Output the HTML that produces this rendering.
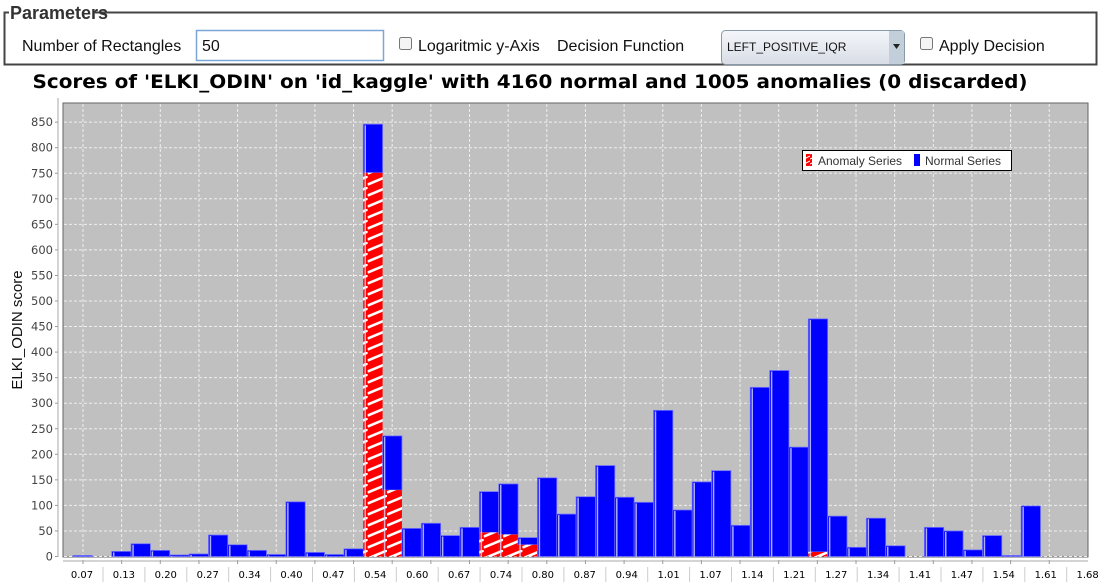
<!DOCTYPE html>
<html><head><meta charset="utf-8"><style>
body{margin:0;width:1104px;height:584px;background:#fff;overflow:hidden;font-family:"Liberation Sans",Arial,sans-serif;}
svg{display:block}
</style></head><body>
<svg width="1104" height="584">
<defs>
<pattern id="hatch" patternUnits="userSpaceOnUse" width="19.35" height="11">
<rect width="19.35" height="11" fill="#ff0000"/>
<path d="M0,8.5 L19.35,0.5" stroke="#fff" stroke-width="2.6"/>
</pattern>
<pattern id="hatchS" patternUnits="userSpaceOnUse" width="6" height="5">
<rect width="6" height="5" fill="#ff0000"/>
<path d="M0,4 L6,1" stroke="#fff" stroke-width="1"/>
</pattern>
<linearGradient id="combo" x1="0" y1="0" x2="0" y2="1"><stop offset="0" stop-color="#f4f6fa"/><stop offset="1" stop-color="#d8dde6"/></linearGradient>
</defs>
<g>
<rect x="4.5" y="12.5" width="1092" height="52" fill="none" stroke="#444" stroke-width="2"/>
<rect x="9" y="2" width="86" height="20" fill="#fff"/>
<text x="10" y="19" font-size="18" font-weight="bold" fill="#333">Parameters</text>
<text x="22" y="51" font-size="16" fill="#111">Number of Rectangles</text>
<rect x="196.5" y="30.5" width="187" height="30" fill="#fff" stroke="#7aa7d8" stroke-width="1.5"/>
<text x="202" y="51" font-size="16" fill="#111">50</text>
<rect x="399.5" y="37.5" width="12" height="12" rx="2" fill="#f4f4f4" stroke="#777"/>
<text x="418" y="51" font-size="16" fill="#111">Logaritmic y-Axis</text>
<text x="557" y="51" font-size="16" fill="#111">Decision Function</text>
<g>
<rect x="721.5" y="30.5" width="183" height="34" rx="4" fill="url(#combo)" stroke="#8899aa"/>
<rect x="889" y="31" width="15" height="33" fill="#c3cedb"/>
<path d="M893,44 L900,44 L896.5,49 Z" fill="#222"/>
<text x="727" y="51" font-size="12" fill="#111">LEFT_POSITIVE_IQR</text>
</g>
<rect x="920.5" y="37.5" width="12" height="12" rx="2" fill="#f4f4f4" stroke="#777"/>
<text x="939" y="51" font-size="16" fill="#111">Apply Decision</text>
</g>
<text x="530" y="88" text-anchor="middle" font-family="DejaVu Sans,sans-serif" font-weight="bold" font-size="19" textLength="995" lengthAdjust="spacingAndGlyphs" fill="#000">Scores of 'ELKI_ODIN' on 'id_kaggle' with 4160 normal and 1005 anomalies (0 discarded)</text>
<rect x="63" y="103" width="1025" height="454" fill="#c0c0c0" stroke="#666"/>
<g id="grid"></g>
<g id="bars"></g>
<g id="axes"></g>
<text transform="translate(22,330) rotate(-90)" text-anchor="middle" font-size="15" fill="#111">ELKI_ODIN score</text>
<g>
<rect x="802.5" y="150.5" width="209" height="20" fill="#fff" stroke="#000"/>
<rect x="806" y="154" width="6" height="12" fill="url(#hatchS)"/>
<text x="818" y="165" font-size="12" fill="#333">Anomaly Series</text>
<rect x="914" y="154" width="6" height="12" fill="#0000ff"/>
<text x="925" y="165" font-size="12" fill="#333">Normal Series</text>
</g>
</svg>
<script>
const totals=[2,0,10,25,12,3,5,42,23,12,4,107,8,4,15,846,236,55,65,41,57,127,142,37,154,83,117,178,116,106,286,91,146,168,61,331,364,214,465,79,18,75,21,0,57,50,13,41,2,99];
const anomalies=[0,0,0,0,0,0,0,0,0,0,0,0,0,0,0,751,130,0,0,0,0,47,43,23,0,0,0,0,0,0,0,0,0,0,0,0,0,0,9,0,0,0,0,0,0,0,0,0,0,0];
const yTicks=[0,50,100,150,200,250,300,350,400,450,500,550,600,650,700,750,800,850];
const xLabels=["0.07","0.13","0.20","0.27","0.34","0.40","0.47","0.54","0.60","0.67","0.74","0.80","0.87","0.94","1.01","1.07","1.14","1.21","1.27","1.34","1.41","1.47","1.54","1.61","1.68"];
const NS="http://www.w3.org/2000/svg";
const y0=556.5,py=0.511,bx0=73,bw=19.35;
const Y=v=>y0-v*py, X=i=>bx0+i*bw;
function mk(t,a,p){const e=document.createElementNS(NS,t);for(const k in a)e.setAttribute(k,a[k]);p.appendChild(e);return e;}
const grid=document.getElementById('grid'),bars=document.getElementById('bars'),axes=document.getElementById('axes');
yTicks.forEach(v=>{
  const l=mk('line',{x1:64,x2:1087,y1:Y(v),y2:Y(v),stroke:'#eee','stroke-dasharray':'3,2','stroke-width':1},grid);
  
  
  mk('line',{x1:55,x2:58,y1:Y(v),y2:Y(v),stroke:'#999'},axes);
  const t=mk('text',{x:53,y:Y(v)+4,'text-anchor':'end','font-size':11.5,fill:'#444','font-family':'DejaVu Sans,sans-serif'},axes);
  t.textContent=v;
  
  
});
for(let k=0;k<=25;k++){const gx=83+k*38.65;
  const l=mk('line',{x1:gx,x2:gx,y1:104,y2:556,stroke:'#eee','stroke-dasharray':'3,2'},grid);
  
  
  mk('line',{x1:gx,x2:gx,y1:560,y2:564,stroke:'#999'},axes);}
mk('line',{x1:58,x2:58,y1:98,y2:557,stroke:'#aaa'},axes);
mk('line',{x1:63,x2:1088,y1:561,y2:561,stroke:'#aaa'},axes);
xLabels.forEach((s,i)=>{const lx=82+i*41.9;
  const t=mk('text',{x:lx,y:578,'text-anchor':'middle','font-size':10,fill:'#000','font-family':'DejaVu Sans,sans-serif'},axes);
  t.textContent=s;
  
  
  if(i<24)mk('line',{x1:lx+21,x2:lx+21,y1:567,y2:582,stroke:'#ccc'},axes);
});
totals.forEach((tv,i)=>{
  const a=anomalies[i],n=tv-a,x=X(i);
  if(n>0){const r=mk('rect',{x:x,y:Y(tv),width:bw,height:n*py,fill:'#0000ff',stroke:'#7070ff','stroke-width':0.8},bars);
    
    }
  if(a>0){const r=mk('rect',{x:x,y:Y(a),width:bw,height:a*py,fill:'url(#hatch)'},bars);
    
    }
  if(tv>0)mk('line',{x1:x+2,x2:x+2,y1:Y(tv)+1,y2:y0,stroke:'#d8d8ff','stroke-width':1.5,opacity:0.8},bars);
});
</script>
</body></html>
